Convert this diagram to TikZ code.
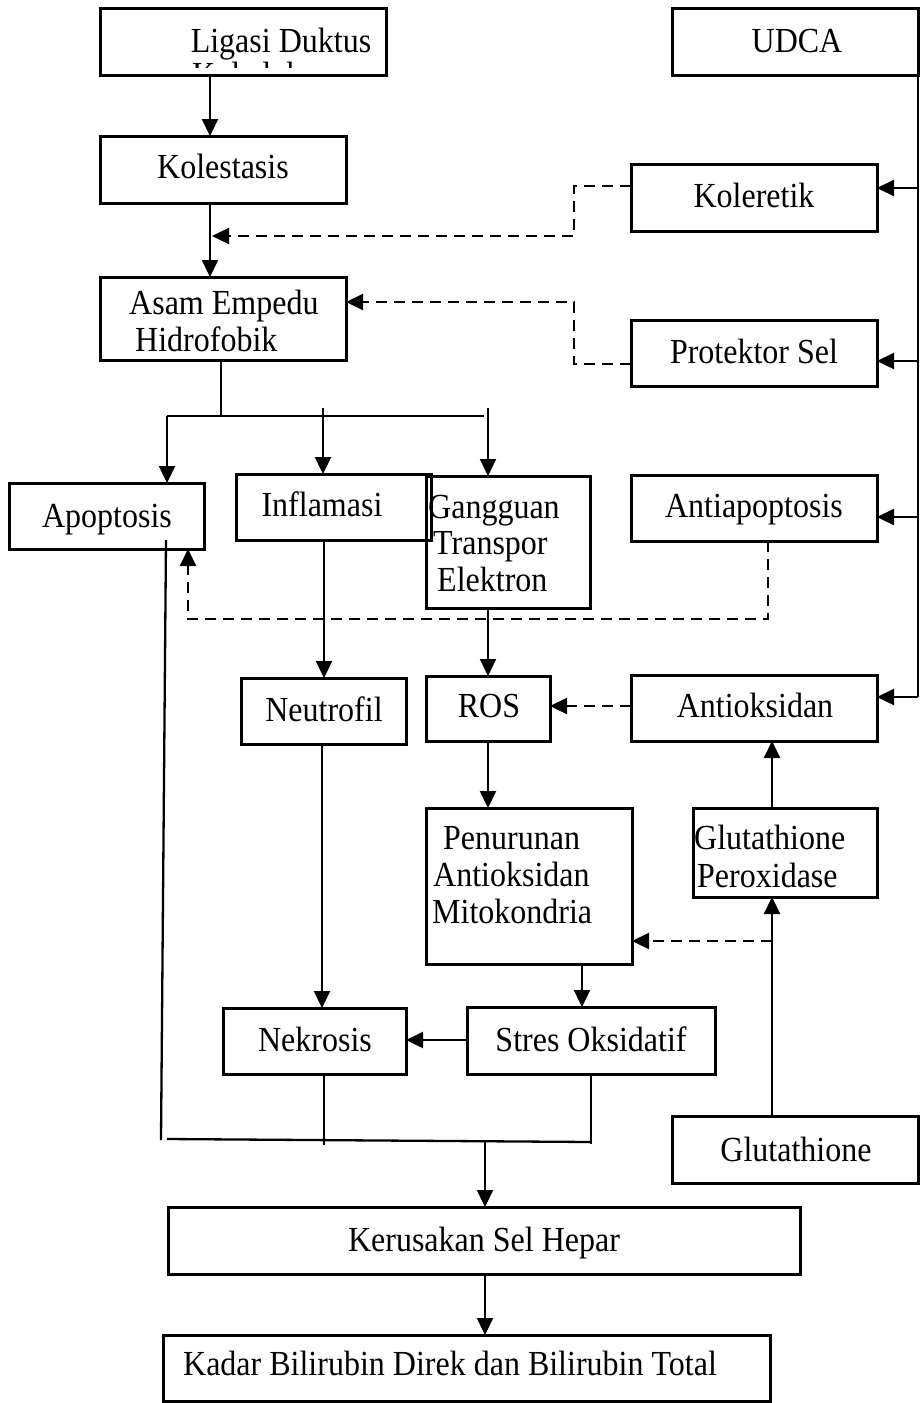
\documentclass[tikz,border=0pt]{standalone}
\usepackage{fontspec}
\setmainfont{Liberation Serif}
\usepackage{graphicx}
\usetikzlibrary{arrows.meta}
\newcommand{\stxt}[1]{\scalebox{1}[1.1]{#1}}
\newcommand{\mybox}[5]{\node[box, minimum width=\fpeval{#4-#2}pt, minimum height=\fpeval{#5-#3}pt] (#1) at (\fpeval{(#2+#4)/2},\fpeval{(#3+#5)/2}) {};}
\begin{document}
\begin{tikzpicture}[x=1pt,y=-1pt,
  box/.style={draw, line width=3pt, inner sep=0pt, outer sep=0pt},
  txt/.style={inner sep=0pt, anchor=base, font=\fontsize{32}{38}\selectfont},
  ltxt/.style={txt, anchor=base west},
  line/.style={line width=2.3pt},
  arr/.style={line width=2.3pt, -{Triangle[length=17pt,width=16pt]}},
  darr/.style={arr, dash pattern=on 11pt off 7pt}]
\useasboundingbox (0,0) rectangle (920,1403);
\fill[white] (0,0) rectangle (920,1403);
% boxes
\mybox{lig}{100}{8}{386}{75}
\mybox{udca}{672}{8}{918}{75}
\mybox{kol}{100}{136}{346}{203}
\mybox{koler}{631}{164}{877}{231}
\mybox{asam}{100}{277}{346}{360}
\mybox{prot}{631}{320}{877}{386}
\mybox{apop}{9}{483}{204}{549}
\mybox{infl}{236}{474}{431}{540}
\mybox{gang}{426}{476}{590}{608}
\mybox{antiap}{631}{475}{877}{541}
\mybox{neut}{241}{678}{406}{744}
\mybox{ros}{426}{676}{550}{741}
\mybox{antiok}{631}{675}{877}{741}
\mybox{penur}{426}{808}{632}{964}
\mybox{gluper}{693}{808}{877}{897}
\mybox{nekr}{223}{1008}{406}{1074}
\mybox{stres}{467}{1007}{715}{1074}
\mybox{glut}{672}{1116}{918}{1183}
\mybox{keru}{168}{1207}{800}{1274}
\mybox{kadar}{163}{1335}{770}{1401}
% texts
\node[txt] (tlig) at (281,52) {\stxt{Ligasi Duktus}};
\begin{scope}
\clip (102,58) rectangle (384,67);
\node[ltxt] (tlig2) at (192,86) {\stxt{Koledokus}};
\end{scope}
\node[txt] (tudca) at (797,52) {\stxt{UDCA}};
\node[txt] (tkol) at (223,178) {\stxt{Kolestasis}};
\node[txt] (tkoler) at (754,207) {\stxt{Koleretik}};
\node[ltxt] (tasam1) at (129,314) {\stxt{Asam Empedu}};
\node[ltxt] (tasam2) at (135,351) {\stxt{Hidrofobik}};
\node[txt] (tprot) at (754,363) {\stxt{Protektor Sel}};
\node[txt] (tapop) at (107,527) {\stxt{Apoptosis}};
\node[txt] (tinfl) at (322,516) {\stxt{Inflamasi}};
\node[ltxt] (tgang1) at (428,518) {\stxt{Gangguan}};
\node[ltxt] (tgang2) at (433,554) {\stxt{Transpor}};
\node[ltxt] (tgang3) at (437,591) {\stxt{Elektron}};
\node[txt] (tantiap) at (754,517) {\stxt{Antiapoptosis}};
\node[txt] (tneut) at (324,721) {\stxt{Neutrofil}};
\node[txt] (tros) at (489,717) {\stxt{ROS}};
\node[txt] (tantiok) at (755,717) {\stxt{Antioksidan}};
\node[ltxt] (tpen1) at (443,849) {\stxt{Penurunan}};
\node[ltxt] (tpen2) at (433,886) {\stxt{Antioksidan}};
\node[ltxt] (tpen3) at (432,923) {\stxt{Mitokondria}};
\node[ltxt] (tglp1) at (694,849) {\stxt{Glutathione}};
\node[ltxt] (tglp2) at (697,887) {\stxt{Peroxidase}};
\node[txt] (tnekr) at (315,1051) {\stxt{Nekrosis}};
\node[txt] (tstres) at (591,1051) {\stxt{Stres Oksidatif}};
\node[txt] (tglut) at (796,1161) {\stxt{Glutathione}};
\node[txt] (tkeru) at (484,1251) {\stxt{Kerusakan Sel Hepar}};
\node[txt] (tkadar) at (450,1375) {\stxt{Kadar Bilirubin Direk dan Bilirubin Total}};
% junction coordinates
\coordinate (kd1) at (574,186);
\coordinate (kd2) at (574,236);
\coordinate (kd3) at (212,236);
\coordinate (pd1) at (574,364);
\coordinate (pd2) at (574,302);
\coordinate (br0) at (221,416);
\coordinate (brL) at (167,416);
\coordinate (brR) at (484,416);
\coordinate (brM) at (323,408);
\coordinate (brG) at (488,408);
\coordinate (ad1) at (768,619);
\coordinate (ad2) at (188,619);
\coordinate (apt) at (166,540);
\coordinate (apb) at (161,1140);
\coordinate (bus) at (918,697);
\coordinate (gd) at (772,941);
\coordinate (nb) at (324,1145);
\coordinate (sb) at (591,1144);
\coordinate (hl) at (167,1139);
\coordinate (hr) at (591,1142);
\coordinate (kt) at (485,1140);
% connectors
\draw[arr] (210,0 |- lig.south) -- (210,0 |- kol.north);
\draw[arr] (210,0 |- kol.south) -- (210,0 |- asam.north);
\draw[darr] (koler.west |- kd1) -- (kd1) -- (kd2) -- (kd3);
\draw[darr] (prot.west |- pd1) -- (pd1) -- (pd2) -- (asam.east |- pd2);
\draw[line] (br0 |- asam.south) -- (br0);
\draw[line] (brL) -- (brR);
\draw[arr] (brL) -- (brL |- apop.north);
\draw[arr] (brM) -- (brM |- infl.north);
\draw[arr] (brG) -- (brG |- gang.north);
\draw[darr] (ad1 |- antiap.south) -- (ad1) -- (ad2) -- (ad2 |- apop.south);
\draw[arr] (324,0 |- infl.south) -- (324,0 |- neut.north);
\draw[line] (apt) -- (apb);
\draw[arr] (488,0 |- gang.south) -- (488,0 |- ros.north);
\draw[darr] (antiok.west |- 0,706) -- (ros.east |- 0,706);
\draw[line] (udca.south east) -- (bus);
\draw[arr] (918,188) -- (koler.east |- 0,188);
\draw[arr] (918,361) -- (prot.east |- 0,361);
\draw[arr] (918,517) -- (antiap.east |- 0,517);
\draw[arr] (bus) -- (antiok.east |- bus);
\draw[arr] (488,0 |- ros.south) -- (488,0 |- penur.north);
\draw[arr] (772,0 |- glut.north) -- (772,0 |- gluper.south);
\draw[arr] (772,0 |- gluper.north) -- (772,0 |- antiok.south);
\draw[darr] (gd) -- (penur.east |- gd);
\draw[arr] (582,0 |- penur.south) -- (582,0 |- stres.north);
\draw[arr] (stres.west |- 0,1040) -- (nekr.east |- 0,1040);
\draw[arr] (322,0 |- neut.south) -- (322,0 |- nekr.north);
\draw[line] (nb |- nekr.south) -- (nb);
\draw[line] (sb |- stres.south) -- (sb);
\draw[line] (hl) -- (hr);
\draw[arr] (kt) -- (kt |- keru.north);
\draw[arr] (485,0 |- keru.south) -- (485,0 |- kadar.north);
\end{tikzpicture}
\end{document}
